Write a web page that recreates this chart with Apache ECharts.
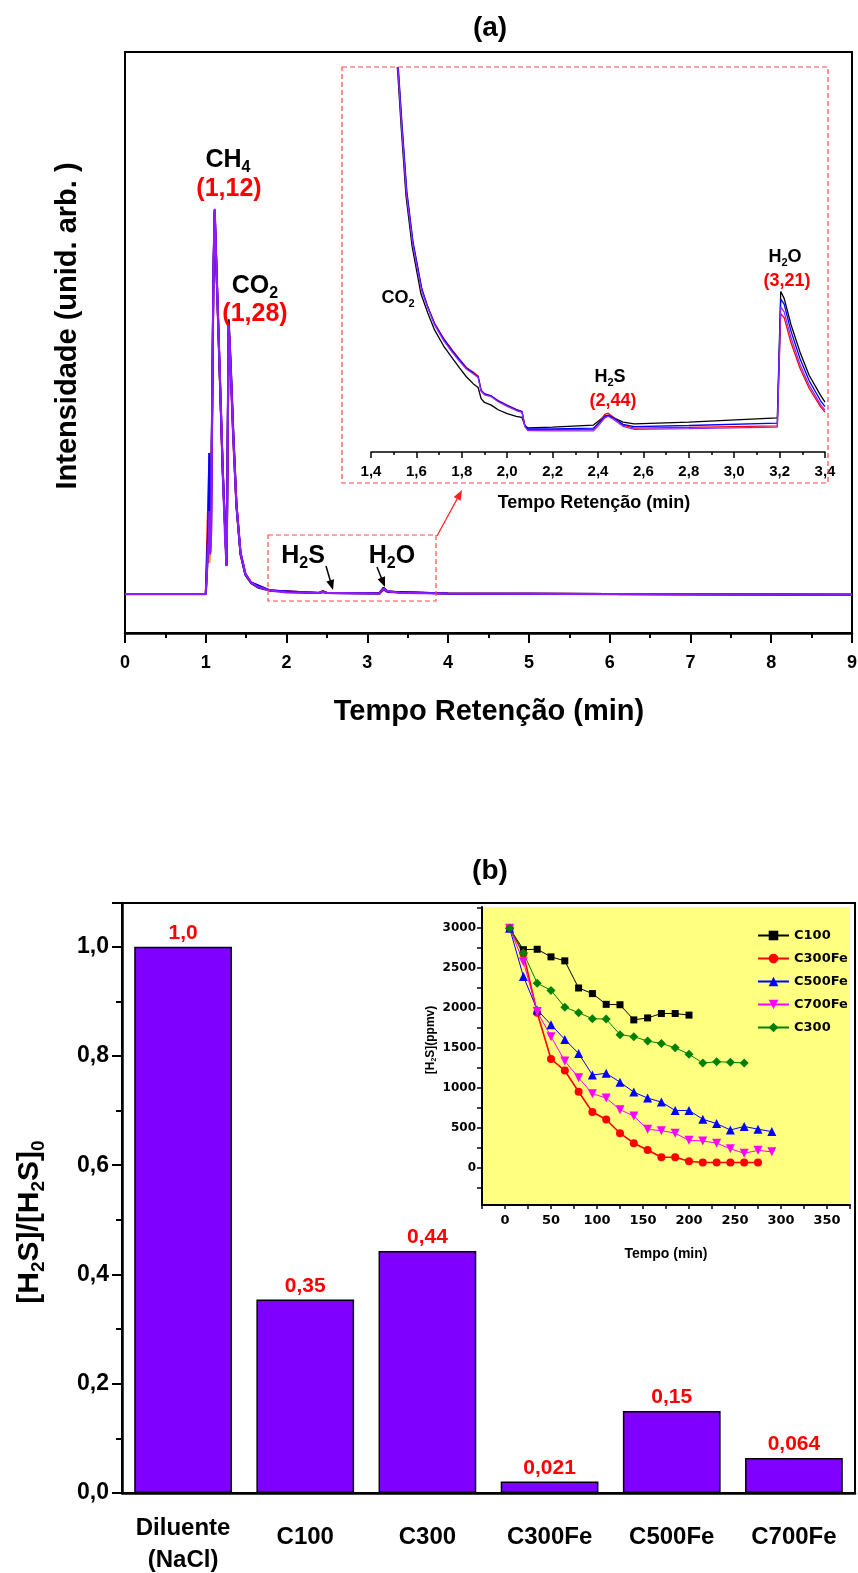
<!DOCTYPE html>
<html><head><meta charset="utf-8">
<script src="https://cdn.jsdelivr.net/npm/echarts@6/dist/echarts.min.js"></script>
<style>html,body{margin:0;padding:0;background:#fff}#c{width:858px;height:1573px}</style>
</head><body><div id="c"></div>
<script>
// ---------- (a) main chromatogram: [time (min), intensity (arb.)] ----------
const mainOrange = [[0,6.7],[1.0,6.7],[1.022,6.9],[1.035,18],[1.045,12],[1.065,16],[1.08,39],[1.095,61],[1.11,72],[1.15,54],[1.21,27],[1.258,11.6],[1.27,30],[1.283,52],[1.31,44],[1.34,33],[1.38,21.5],[1.43,13.6],[1.49,10.1],[1.56,8.6],[1.8,7.3],[2.4,6.9],[3.15,6.8],[3.2,7.4],[3.25,7.0],[4.0,6.8],[9.0,6.6]];
const mainBlack  = [[0,6.7],[1.0,6.7],[1.022,6.9],[1.04,18],[1.055,14],[1.08,40],[1.095,62],[1.11,72.5],[1.15,55],[1.21,28],[1.258,11.8],[1.27,31],[1.284,54],[1.31,46],[1.34,35],[1.38,22],[1.43,13.5],[1.49,10],[1.56,8.6],[1.65,7.8],[1.8,7.3],[2.1,7.0],[2.4,6.9],[2.45,7.2],[2.5,6.9],[3.15,6.9],[3.2,7.8],[3.25,7.2],[3.4,7.0],[4.0,6.8],[9.0,6.6]];
const mainRed    = [[0,6.7],[1.0,6.7],[1.022,6.9],[1.04,28],[1.05,15],[1.065,17],[1.08,40],[1.095,62],[1.11,72.8],[1.15,55],[1.21,28],[1.258,11.6],[1.27,31],[1.283,53],[1.31,45],[1.34,34],[1.38,22],[1.43,13.8],[1.49,10.2],[1.56,8.7],[1.8,7.3],[2.4,6.9],[2.45,7.2],[2.5,6.9],[3.15,6.8],[3.2,7.5],[3.25,7.1],[4.0,6.8],[9.0,6.6]];
const mainBlue   = [[0,6.7],[1.0,6.7],[1.022,6.9],[1.035,20],[1.042,31],[1.05,16],[1.065,17],[1.08,40],[1.095,62],[1.11,72.8],[1.15,55],[1.21,28],[1.258,11.6],[1.27,31],[1.283,53],[1.31,45],[1.34,34],[1.38,22],[1.43,13.8],[1.49,10.2],[1.56,8.7],[1.8,7.3],[2.4,6.9],[2.45,7.1],[2.5,6.9],[3.15,6.8],[3.2,7.6],[3.25,7.1],[4.0,6.8],[9.0,6.6]];
const mainPurple = [[0,6.7],[0.5,6.7],[1.0,6.7],[1.022,6.9],[1.035,16],[1.045,21],[1.055,13.5],[1.065,17],[1.08,40],[1.095,62],[1.11,73],[1.125,66],[1.15,55],[1.18,42],[1.21,28],[1.24,16],[1.258,11.5],[1.27,31],[1.283,53],[1.295,50],[1.31,45],[1.34,34],[1.38,22],[1.43,13.8],[1.49,10.2],[1.56,8.7],[1.65,7.9],[1.8,7.3],[2.0,7.0],[2.4,6.9],[2.45,7.1],[2.5,6.9],[3.15,6.8],[3.2,7.6],[3.25,7.2],[3.4,6.9],[4.0,6.8],[6.0,6.7],[9.0,6.6]];

// ---------- (a) inset: [time (min), intensity (arb.)] ----------
const insetBlack  = [[1.506,104],[1.517,99.5],[1.533,84.5],[1.554,66.8],[1.581,53.6],[1.62,41.2],[1.65,36.2],[1.68,31.8],[1.72,27.6],[1.76,24.3],[1.79,21.9],[1.82,19.6],[1.85,17.8],[1.872,16.8],[1.885,13.9],[1.9,12.9],[1.93,12.2],[1.96,11.0],[2.0,10.0],[2.04,9.3],[2.065,9.0],[2.078,6.9],[2.09,6.3],[2.2,6.5],[2.38,7.0],[2.405,8.2],[2.43,9.4],[2.445,9.5],[2.47,8.9],[2.51,7.8],[2.56,7.3],[2.8,7.8],[3.19,8.9],[3.205,41.8],[3.22,40.0],[3.25,33.2],[3.29,26.0],[3.33,20.0],[3.38,14.8],[3.4,13.0]];
const insetRed    = [[1.509,104],[1.52,99.5],[1.536,85],[1.557,67.6],[1.584,54.6],[1.623,42.4],[1.65,37.8],[1.68,33.5],[1.72,29.6],[1.76,26.4],[1.79,24.2],[1.82,22.0],[1.85,20.8],[1.872,19.8],[1.885,16.1],[1.9,15.2],[1.93,14.6],[1.96,13.4],[2.0,12.2],[2.04,11.1],[2.065,10.6],[2.078,6.7],[2.09,5.9],[2.2,5.8],[2.38,5.9],[2.405,7.8],[2.43,9.8],[2.445,10.1],[2.47,9.0],[2.51,7.0],[2.56,6.2],[2.8,6.4],[3.19,6.8],[3.205,36.0],[3.22,35.0],[3.25,28.5],[3.29,21.8],[3.33,16.6],[3.38,11.8],[3.4,10.4]];
const insetBlue   = [[1.51,104],[1.521,99.5],[1.537,85],[1.558,67.8],[1.585,54.8],[1.624,42.5],[1.65,37.8],[1.68,33.4],[1.72,29.4],[1.76,26.2],[1.79,24.0],[1.82,21.9],[1.85,20.6],[1.872,19.6],[1.885,16.0],[1.9,15.1],[1.93,14.6],[1.96,13.3],[2.0,12.1],[2.04,11.0],[2.065,10.5],[2.078,6.8],[2.09,6.0],[2.2,6.0],[2.38,6.2],[2.405,7.6],[2.43,9.2],[2.445,9.6],[2.47,8.8],[2.51,7.2],[2.56,6.6],[2.8,6.9],[3.19,7.5],[3.205,39.8],[3.22,38.5],[3.25,31.5],[3.29,24.3],[3.33,18.6],[3.38,13.4],[3.4,11.8]];
const insetPurple = [[1.508,104],[1.519,99.5],[1.535,84.7],[1.556,67.4],[1.583,54.4],[1.622,42.2],[1.65,37.5],[1.68,33.1],[1.72,29.0],[1.76,25.8],[1.79,23.6],[1.82,21.6],[1.85,20.4],[1.872,19.4],[1.885,15.8],[1.9,14.9],[1.93,14.4],[1.96,13.1],[2.0,11.9],[2.04,10.8],[2.065,10.3],[2.078,6.6],[2.09,5.6],[2.2,5.5],[2.38,5.5],[2.405,7.1],[2.43,8.9],[2.445,9.3],[2.47,8.4],[2.51,6.7],[2.56,5.9],[2.8,6.1],[3.19,6.5],[3.205,37.8],[3.22,36.5],[3.25,29.8],[3.29,22.8],[3.33,17.4],[3.38,12.4],[3.4,10.9]];

// ---------- (b) bars ----------
const barCategories = ['Diluente\n(NaCl)','C100','C300','C300Fe','C500Fe','C700Fe'];
const barValues = [1.0, 0.354, 0.443, 0.021, 0.15, 0.064];
const barLabels = ['1,0','0,35','0,44','0,021','0,15','0,064'];

// ---------- (b) inset: [time (min), [H2S] (ppmv)] ----------
const c100   = [[5,3000],[20,2730],[35,2735],[50,2640],[65,2590],[80,2250],[95,2180],[110,2045],[125,2040],[140,1850],[155,1875],[170,1930],[185,1930],[200,1910]];
const c300Fe = [[5,3000],[20,2680],[35,1940],[50,1360],[65,1215],[80,950],[95,696],[110,602],[125,430],[140,305],[155,219],[170,129],[185,129],[200,78],[215,62],[230,62],[245,62],[260,62],[275,62]];
const c500Fe = [[5,3000],[20,2395],[35,1975],[50,1790],[65,1605],[80,1430],[95,1160],[110,1180],[125,1070],[140,945],[155,870],[170,820],[185,715],[200,715],[215,605],[230,550],[245,470],[260,515],[275,480],[290,450]];
const c700Fe = [[5,3000],[20,2580],[35,1955],[50,1640],[65,1335],[80,1125],[95,925],[110,870],[125,725],[140,645],[155,478],[170,462],[185,430],[200,340],[215,333],[230,305],[245,235],[260,178],[275,215],[290,196]];
const c300   = [[5,3000],[20,2690],[35,2310],[50,2220],[65,2010],[80,1940],[95,1865],[110,1860],[125,1665],[140,1640],[155,1585],[170,1555],[185,1500],[200,1420],[215,1310],[230,1325],[245,1320],[260,1310]];

const insetXLabels = [0,50,100,150,200,250,300,350];
const insetXTicks  = [-25,0,25,50,75,100,125,150,175,200,225,250,275,300,325,350,375];
const insetYLabels = [0,500,1000,1500,2000,2500,3000];
const insetYTicks  = [-250,0,250,500,750,1000,1250,1500,1750,2000,2250,2500,2750,3000,3250];

// ---------- helpers ----------
const FONT = 'Liberation Sans, Arial, sans-serif';
const FONT2 = 'DejaVu Sans, Verdana, sans-serif';
const comma1 = v => v.toFixed(1).replace('.', ',');

function label(x, y, str, size, color, rot, family) {
  const fam = family || FONT, col = color || '#000';
  return {type:'text', x, y, rotation: rot || 0, z: 60, silent: true,
    style:{text:str, fontSize:size, fontWeight:'bold', fontFamily:fam, fill:col,
      align:'center', verticalAlign:'middle',
      rich:{s:{fontSize:Math.round(size*0.62), fontWeight:'bold', fontFamily:fam, fill:col,
               padding:[Math.round(size*0.6),0,0,0]}}}};
}
function arrow(x1, y1, x2, y2, color, w, hl, hw) {
  const a = Math.atan2(y2-y1, x2-x1), c = Math.cos(a), s = Math.sin(a);
  const bx = x2 - hl*c, by = y2 - hl*s;
  return [
    {type:'line', z:60, silent:true, shape:{x1, y1, x2:bx+hl*0.3*c, y2:by+hl*0.3*s}, style:{stroke:color, lineWidth:w}},
    {type:'polygon', z:60, silent:true, shape:{points:[[x2,y2],[bx+hw*s,by-hw*c],[bx-hw*s,by+hw*c]]}, style:{fill:color}}
  ];
}
function dashedBox(x, y, w, h) {
  return {type:'rect', z:55, silent:true, shape:{x, y, width:w, height:h},
    style:{fill:'none', stroke:'#ff4a4a', lineWidth:1.2, lineDash:[5,3]}};
}
function chromLine(data, color, xi, width) {
  return {type:'line', xAxisIndex:xi, yAxisIndex:xi, data, symbol:'none', showSymbol:false,
    lineStyle:{color, width}, itemStyle:{color}, silent:true, clip:true, z:3};
}
function ppmLine(name, data, color, symbol, size, lw) {
  return {name, type:'line', xAxisIndex:3, yAxisIndex:3, data, symbol, symbolSize:size,
    lineStyle:{color, width:lw}, itemStyle:{color}, z:5};
}

const black = '#000';
const option = {
  animation:false,
  backgroundColor:'#ffffff',
  textStyle:{fontFamily:FONT},
  grid:[
    {left:125, top:52, width:727, height:581, show:true, borderColor:black, borderWidth:2, outerBoundsMode:'none'},
    {left:371, top:68, width:454, height:384, show:false, outerBoundsMode:'none'},
    {left:122, top:903, width:733, height:590, show:true, borderColor:black, borderWidth:2, outerBoundsMode:'none'},
    {left:482, top:907, width:368, height:298, show:true, backgroundColor:'#ffff80', borderWidth:0, outerBoundsMode:'none'}
  ],
  xAxis:[
    {gridIndex:0, type:'value', min:0, max:9, interval:1,
      axisLine:{onZero:false, lineStyle:{color:black, width:2.5}},
      axisTick:{inside:false, length:10, lineStyle:{color:black, width:2}},
      minorTick:{show:true, splitNumber:2, length:5, lineStyle:{color:black, width:2}},
      splitLine:{show:false}, minorSplitLine:{show:false},
      axisLabel:{fontSize:18, fontWeight:'bold', color:black, margin:21, fontFamily:FONT}},
    {gridIndex:1, type:'value', min:1.4, max:3.4, interval:0.2,
      axisLine:{onZero:false, lineStyle:{color:black, width:1.5}},
      axisTick:{length:6, lineStyle:{color:black, width:1.5}},
      minorTick:{show:true, splitNumber:2, length:3, lineStyle:{color:black, width:1.5}},
      splitLine:{show:false}, minorSplitLine:{show:false},
      axisLabel:{fontSize:15, fontWeight:'bold', color:black, margin:12, fontFamily:FONT, formatter:comma1}},
    {gridIndex:2, type:'category', data:barCategories,
      axisLine:{onZero:false, lineStyle:{color:black, width:2.5}},
      axisTick:{alignWithLabel:true, length:10, lineStyle:{color:black, width:2}},
      axisLabel:{interval:0, fontSize:24, fontWeight:'bold', color:black, margin:19, fontFamily:FONT,
        formatter: v => v.indexOf('\n') >= 0 ? v.split('\n').map(s => '{m|' + s + '}').join('\n') : '{o|' + v + '}',
        rich:{m:{lineHeight:32, fontSize:24, fontWeight:'bold', fontFamily:FONT, color:black},
              o:{lineHeight:50, fontSize:24, fontWeight:'bold', fontFamily:FONT, color:black}}}},
    {gridIndex:3, type:'value', min:-25, max:375,
      axisLine:{onZero:false, lineStyle:{color:black, width:2}},
      axisTick:{customValues:insetXTicks, length:4, lineStyle:{color:black, width:1.5}},
      splitLine:{show:false},
      axisLabel:{customValues:insetXLabels, fontSize:13, fontWeight:'bold', color:black, margin:9, fontFamily:FONT2,
        formatter: v => String(v)}}
  ],
  yAxis:[
    {gridIndex:0, type:'value', min:0, max:100, axisLine:{show:true, onZero:false, lineStyle:{color:black, width:2}},
      axisTick:{show:false}, axisLabel:{show:false}, splitLine:{show:false}},
    {gridIndex:1, type:'value', min:0, max:100, show:false},
    {gridIndex:2, type:'value', min:0, max:1.08, interval:0.2,
      axisLine:{show:true, onZero:false, lineStyle:{color:black, width:2.5}},
      axisTick:{show:true, length:10, lineStyle:{color:black, width:2}},
      minorTick:{show:true, splitNumber:2, length:6, lineStyle:{color:black, width:2}},
      splitLine:{show:false}, minorSplitLine:{show:false},
      axisLabel:{fontSize:23, fontWeight:'bold', color:black, margin:13, fontFamily:FONT, formatter:comma1, showMaxLabel:false}},
    {gridIndex:3, type:'value', min:-470, max:3265,
      axisLine:{show:true, onZero:false, lineStyle:{color:black, width:2}},
      axisTick:{show:true, customValues:insetYTicks, length:5, lineStyle:{color:black, width:1.5}},
      splitLine:{show:false},
      axisLabel:{customValues:insetYLabels, fontSize:12, fontWeight:'bold', color:black, margin:6, fontFamily:FONT2,
        formatter: v => String(v)}}
  ],
  legend:{data:['C100','C300Fe','C500Fe','C700Fe','C300'], orient:'vertical', left:752, top:924,
    itemWidth:31, itemHeight:12, itemGap:10, selectedMode:false,
    textStyle:{fontFamily:FONT2, fontSize:13, fontWeight:'bold', color:black, lineHeight:12}},
  series:[
    chromLine(mainOrange, '#ff8c00', 0, 2),
    chromLine(mainBlack, '#000000', 0, 2),
    chromLine(mainRed, '#ff0000', 0, 2),
    chromLine(mainBlue, '#0000ff', 0, 2),
    chromLine(mainPurple, '#8c1cff', 0, 2.2),
    chromLine(insetBlack, '#000000', 1, 1.3),
    chromLine(insetRed, '#ff0000', 1, 1.3),
    chromLine(insetBlue, '#0000ff', 1, 1.3),
    chromLine(insetPurple, '#8c2cff', 1, 1.3),
    {type:'bar', xAxisIndex:2, yAxisIndex:2, data:barValues, barWidth:'80%',
      itemStyle:{color:'#8000ff', borderColor:'#000', borderWidth:1.5},
      label:{show:true, position:'top', distance:3, color:'#ff0000', fontSize:21, fontWeight:'bold', fontFamily:FONT,
        formatter:p => barLabels[p.dataIndex]}},
    ppmLine('C100', c100, '#000000', 'rect', 7, 1),
    ppmLine('C300Fe', c300Fe, '#ff0000', 'circle', 8, 1.6),
    ppmLine('C500Fe', c500Fe, '#0000ff', 'triangle', 9, 1),
    ppmLine('C700Fe', c700Fe, '#ff00ff', 'path://M0,0L10,0L5,9Z', 9, 1),
    ppmLine('C300', c300, '#008000', 'diamond', 9, 1)
  ],
  graphic:{elements:[
    label(490, 28, '(a)', 28),
    label(68, 326, 'Intensidade (unid. arb. )', 29, black, Math.PI/2),
    label(489, 712, 'Tempo Retenção (min)', 29),
    label(228, 160, 'CH{s|4}', 25),
    label(229, 189, '(1,12)', 25, '#ff0000'),
    label(255, 286, 'CO{s|2}', 25),
    label(255, 314, '(1,28)', 25, '#ff0000'),
    label(303, 556, 'H{s|2}S', 25),
    label(392, 556, 'H{s|2}O', 25),
    ...arrow(326, 566, 333, 590, black, 1.5, 10, 4),
    ...arrow(377, 567, 385, 587, black, 1.5, 10, 4),
    dashedBox(268, 535, 168, 66),
    dashedBox(342, 67, 486, 416),
    ...arrow(437, 536, 462, 490, '#ff2020', 1.2, 10, 4),
    label(398, 298, 'CO{s|2}', 18),
    label(610, 377, 'H{s|2}S', 18),
    label(613, 401, '(2,44)', 18, '#ff0000'),
    label(785, 257, 'H{s|2}O', 18),
    label(787, 281, '(3,21)', 18, '#ff0000'),
    label(594, 503, 'Tempo Retenção (min)', 18),
    label(490, 871, '(b)', 28),
    label(30, 1222, '[H{s|2}S]/[H{s|2}S]{s|0}', 30, black, Math.PI/2),
    label(431, 1040, '[H{s|2}S](ppmv)', 12, black, Math.PI/2),
    label(666, 1254, 'Tempo (min)', 14)
  ]}
};
const chart = echarts.init(document.getElementById('c'), null, {renderer:'canvas', width:858, height:1573});
chart.setOption(option);
</script>
</body></html>
